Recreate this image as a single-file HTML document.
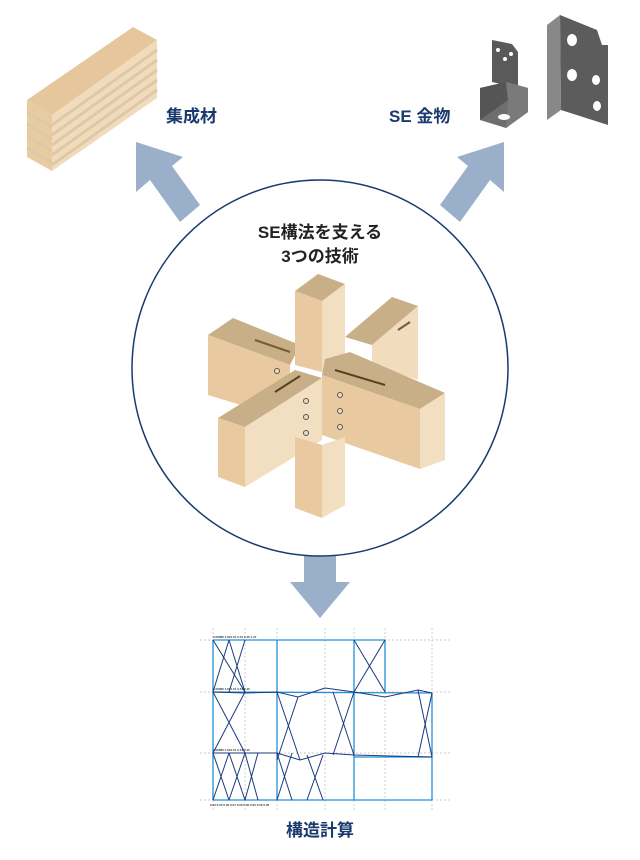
<!DOCTYPE html>
<html><head><meta charset="utf-8"><style>
html,body{margin:0;padding:0;background:#fff;width:640px;height:860px;overflow:hidden}
svg{display:block}
text{font-family:"Liberation Sans","Noto Sans CJK JP",sans-serif;font-weight:bold}
</style></head><body>
<svg width="640" height="860" viewBox="0 0 640 860">
<!-- Lumber -->
<polygon points="27,100 133,27 157,40 52,115" fill="#E6C69C"/>
<polygon points="27,100 52,115 52,171 27,157" fill="#E8CBA0"/>
<polygon points="52,115 157,40 157,98 52,171" fill="#F0DCBC"/>
<g stroke="#DEC8A8" stroke-width="3">
<line x1="52" y1="125" x2="157" y2="50"/><line x1="52" y1="135" x2="157" y2="60"/>
<line x1="52" y1="145" x2="157" y2="70"/><line x1="52" y1="155" x2="157" y2="80"/>
<line x1="52" y1="165" x2="157" y2="90"/>
<line x1="27" y1="112" x2="52" y2="127"/><line x1="27" y1="124" x2="52" y2="139"/>
<line x1="27" y1="136" x2="52" y2="151"/><line x1="27" y1="148" x2="52" y2="163"/>
</g>
<text x="166" y="122" font-size="17" fill="#1a3a6e">集成材</text>
<!-- Metal -->
<text x="389" y="122" font-size="17" fill="#1a3a6e">SE 金物</text>
<polygon points="492,40 512,44 518,52 518,88 492,82" fill="#5a5a5a"/>
<circle cx="498" cy="50" r="2" fill="#fff"/><circle cx="511" cy="54" r="2" fill="#fff"/><circle cx="505" cy="59" r="2" fill="#fff"/>
<polygon points="480,88 506,82 528,88 528,112 506,128 480,120" fill="#6e6e6e"/>
<polygon points="480,88 506,82 508,100 480,120" fill="#555"/>
<polygon points="506,82 528,88 528,112 506,128 508,100" fill="#7a7a7a"/>
<ellipse cx="504" cy="117" rx="6" ry="3" fill="#fff"/>
<polygon points="547,25 560,15 561,110 547,120" fill="#888"/>
<polygon points="560,15 597,30 602,45 608,45 608,125 561,110" fill="#5c5c5c"/>
<ellipse cx="572" cy="40" rx="5" ry="6" fill="#fff"/><ellipse cx="572" cy="75" rx="5" ry="6" fill="#fff"/>
<ellipse cx="596" cy="80" rx="4" ry="5" fill="#fff"/><ellipse cx="597" cy="106" rx="4" ry="5" fill="#fff"/>
<!-- arrows -->
<polygon points="136,142 183,157 172,166 200,205 180,222 150,180 136,192" fill="#9aafc9"/>
<polygon points="504,142 457,157 468,166 440,205 460,222 490,180 504,192" fill="#9aafc9"/>
<polygon points="304,535 336,535 336,582 350,582 320,618 290,582 304,582" fill="#9aafc9"/>
<!-- circle -->
<circle cx="320" cy="368" r="188" fill="#fff" stroke="#1a3a6e" stroke-width="1.5"/>
<text x="320" y="238" font-size="17" fill="#222" text-anchor="middle">SE構法を支える</text>
<text x="320" y="262" font-size="17" fill="#222" text-anchor="middle">3つの技術</text>
<!-- joint -->
<polygon points="345,337 392,297 418,306 372,345" fill="#C9AF88"/>
<polygon points="372,345 418,306 418,380 372,365" fill="#F1DDBD"/>
<line x1="398" y1="330" x2="410" y2="322" stroke="#7a5a30" stroke-width="2"/>
<polygon points="208,335 233,318 300,345 290,365" fill="#C9AF88"/>
<polygon points="208,335 290,365 290,420 208,395" fill="#E8C9A0"/>
<line x1="255" y1="340" x2="290" y2="352" stroke="#7a5a30" stroke-width="2"/>
<polygon points="295,291 318,274 345,284 322,301" fill="#C9AF88"/>
<polygon points="295,291 322,301 322,372 295,365" fill="#E8C9A0"/>
<polygon points="322,301 345,284 345,370 322,372" fill="#F2DEC0"/>
<polygon points="325,359 350,352 445,393 420,409 322,375" fill="#C9AF88"/>
<polygon points="322,375 420,409 420,469 322,435" fill="#E8C9A0"/>
<polygon points="420,409 445,393 445,460 420,469" fill="#F2DEC0"/>
<line x1="335" y1="370" x2="385" y2="385" stroke="#5a4020" stroke-width="2"/>
<polygon points="218,418 295,370 322,378 245,427" fill="#C9AF88"/>
<polygon points="218,418 245,427 245,487 218,477" fill="#E8C9A0"/>
<polygon points="245,427 322,378 322,440 245,487" fill="#F2DEC0"/>
<line x1="275" y1="392" x2="300" y2="376" stroke="#5a4020" stroke-width="2"/>
<polygon points="295,437 322,445 322,518 295,508" fill="#E8C9A0"/>
<polygon points="322,445 345,437 345,505 322,518" fill="#F2DEC0"/>
<g fill="#ddd" stroke="#6a5030" stroke-width="1">
<circle cx="306" cy="401" r="2.5"/><circle cx="306" cy="417" r="2.5"/><circle cx="306" cy="433" r="2.5"/>
<circle cx="340" cy="395" r="2.5"/><circle cx="340" cy="411" r="2.5"/><circle cx="340" cy="427" r="2.5"/>
<circle cx="277" cy="371" r="2.5"/>
</g>
<!-- structure chart -->
<g stroke="#bbb" stroke-width="0.7" stroke-dasharray="2,2">
<line x1="200" y1="640" x2="450" y2="640"/><line x1="200" y1="692" x2="450" y2="692"/>
<line x1="200" y1="753" x2="450" y2="753"/><line x1="200" y1="800" x2="450" y2="800"/>
<line x1="213" y1="628" x2="213" y2="812"/><line x1="245" y1="628" x2="245" y2="812"/>
<line x1="277" y1="628" x2="277" y2="812"/><line x1="325" y1="628" x2="325" y2="812"/>
<line x1="354" y1="628" x2="354" y2="812"/><line x1="385" y1="628" x2="385" y2="812"/>
<line x1="432" y1="628" x2="432" y2="812"/>
</g>
<g stroke="#2090d8" stroke-width="1.3" fill="none">
<polyline points="213,640 385,640 385,692"/>
<line x1="213" y1="640" x2="213" y2="800"/><line x1="277" y1="640" x2="277" y2="800"/>
<line x1="354" y1="640" x2="354" y2="800"/><line x1="432" y1="693" x2="432" y2="800"/>
<line x1="213" y1="800" x2="432" y2="800"/><line x1="213" y1="692" x2="432" y2="693"/>
<line x1="354" y1="757" x2="432" y2="757"/>
</g>
<g stroke="#1a3a7e" stroke-width="1" fill="none">
<line x1="213" y1="640" x2="245" y2="692"/><line x1="229" y1="640" x2="213" y2="692"/>
<line x1="229" y1="640" x2="245" y2="692"/><line x1="245" y1="640" x2="229" y2="692"/>
<line x1="354" y1="640" x2="385" y2="692"/><line x1="385" y1="640" x2="354" y2="692"/>
<line x1="213" y1="692" x2="245" y2="753"/><line x1="245" y1="692" x2="213" y2="753"/>
<line x1="277" y1="692" x2="300" y2="760"/><line x1="298" y1="697" x2="277" y2="760"/>
<line x1="333" y1="692" x2="354" y2="755"/><line x1="354" y1="692" x2="333" y2="755"/>
<line x1="418" y1="690" x2="432" y2="757"/><line x1="432" y1="693" x2="418" y2="757"/>
<polyline points="213,692 245,693 277,692 298,697 325,688 354,692 385,697 418,690 432,693"/>
<polyline points="213,753 260,753 277,753 300,760 325,753 354,755 432,757"/>
<line x1="213" y1="753" x2="229" y2="800"/><line x1="229" y1="753" x2="213" y2="800"/>
<line x1="229" y1="753" x2="245" y2="800"/><line x1="245" y1="753" x2="229" y2="800"/>
<line x1="245" y1="753" x2="258" y2="800"/><line x1="258" y1="753" x2="245" y2="800"/>
<line x1="277" y1="753" x2="292" y2="800"/><line x1="292" y1="753" x2="277" y2="800"/>
<line x1="307" y1="755" x2="323" y2="800"/><line x1="323" y1="755" x2="307" y2="800"/>
</g>
<g font-size="3" fill="#333" style="font-weight:normal">
<text x="213" y="638">0.00685 1.621.51 0.51 2.45 1.37</text>
<text x="213" y="690">0.00685 1.621.51 0.51 2.45</text>
<text x="213" y="751">0.00685 1.621.51 0.51 2.45</text>
<text x="210" y="806">0.00  0.00  0.00  0.07  0.00  0.00  0.00  0.00  0.00</text>
</g>
<text x="320" y="836" font-size="17" fill="#1a3a6e" text-anchor="middle">構造計算</text>
</svg>
</body></html>
